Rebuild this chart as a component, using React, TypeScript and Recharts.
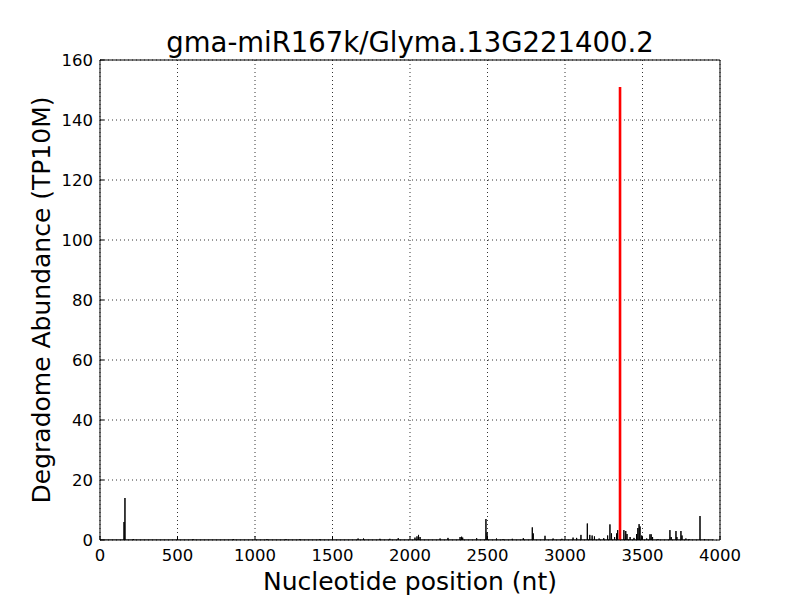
import { LineChart, Line, XAxis, YAxis, CartesianGrid, Label } from 'recharts';

// black degradome reads: position (nt) and abundance (TP10M)
const peakPositions = [
  155, 161, 215, 600, 860, 1077, 1200, 1290, 1419, 1665, 1700, 1806, 1870, 1924,
  2032, 2045, 2055, 2065, 2194, 2245, 2323, 2333, 2340, 2430, 2490, 2497, 2558,
  2600, 2660, 2731, 2789, 2795, 2871, 2923, 2980, 3052, 3075, 3103, 3144, 3160,
  3175, 3190, 3220, 3250, 3275, 3290, 3300, 3320, 3333, 3340, 3380, 3392, 3400,
  3420, 3445, 3462, 3470, 3478, 3484, 3495, 3527, 3548, 3556, 3565, 3600, 3677,
  3685, 3716, 3722, 3748, 3755, 3780, 3800, 3871, 3900,
];
const peakValues = [
  6, 14, 0.3, 0.3, 0.3, 0.3, 0.3, 0.3, 0.3, 0.5, 0.5, 0.4, 0.4, 0.6,
  0.8, 1.2, 1.7, 1, 0.5, 0.7, 1, 1.1, 0.8, 0.6, 7, 2.5, 0.5,
  0.3, 0.4, 0.6, 4.2, 2.2, 1.4, 0.5, 0.4, 0.8, 0.7, 1.7, 5.5, 1.7,
  1.5, 1.2, 0.5, 0.6, 1.5, 5.2, 2.2, 1, 2.2, 3.3, 3.3, 3, 2,
  1, 0.7, 2, 4, 5.3, 4.5, 1.5, 0.5, 1.9, 1.9, 1, 0.3, 3.3,
  1, 3, 1, 3, 1.5, 0.5, 0.3, 8, 0.3,
];
const seqEnd = 3960;

// the miRNA cleavage site (red)
const sitePosition = 3355;
const siteValue = 151;

const xTicks = [0, 500, 1000, 1500, 2000, 2500, 3000, 3500, 4000];
const yTicks = [0, 20, 40, 60, 80, 100, 120, 140, 160];

const reads: { pos: number; v: number }[] = [{ pos: 0, v: 0 }];
peakPositions.forEach((p, i) => {
  reads.push({ pos: p - 1, v: 0 }, { pos: p, v: peakValues[i] }, { pos: p + 1, v: 0 });
});
reads.push({ pos: seqEnd, v: 0 });

const site = [
  { pos: sitePosition, v: 0 },
  { pos: sitePosition, v: siteValue },
];

const font = 'DejaVu Sans, sans-serif';
const tickStyle = { fill: '#000', fontSize: 16.5, fontFamily: font };
const blank = () => '';

export default function App() {
  return (
    <div style={{ position: 'absolute', left: 0, top: 0 }}>
      <LineChart
        width={800}
        height={600}
        margin={{ top: 59, right: 79, bottom: 59, left: 99 }}
        style={{ fontFamily: font, background: '#fff' }}
      >
        <CartesianGrid stroke="#000" strokeDasharray="1 3" strokeWidth={0.8} />
        <XAxis
          dataKey="pos"
          type="number"
          domain={[0, 4000]}
          ticks={xTicks}
          height={1}
          tickSize={-4}
          tickMargin={13}
          tick={tickStyle}
          axisLine={{ stroke: '#000' }}
          tickLine={{ stroke: '#000' }}
          allowDataOverflow
        >
          <Label value="Nucleotide position (nt)" position="center" dy={41} fill="#000" fontSize={25} fontFamily={font} />
        </XAxis>
        <XAxis
          xAxisId="top"
          orientation="top"
          dataKey="pos"
          type="number"
          domain={[0, 4000]}
          ticks={xTicks}
          height={1}
          tickSize={-4}
          tickFormatter={blank}
          axisLine={{ stroke: '#000' }}
          tickLine={{ stroke: '#000' }}
        >
          <Label value="gma-miR167k/Glyma.13G221400.2" position="center" dy={-17} fill="#000" fontSize={27.5} fontFamily={font} />
        </XAxis>
        <YAxis
          type="number"
          domain={[0, 160]}
          ticks={yTicks}
          width={1}
          tickSize={-4}
          tickMargin={11}
          tick={tickStyle}
          axisLine={{ stroke: '#000' }}
          tickLine={{ stroke: '#000' }}
          allowDataOverflow
        >
          <Label value="Degradome Abundance (TP10M)" position="center" angle={-90} dx={-58} fill="#000" fontSize={25} fontFamily={font} />
        </YAxis>
        <YAxis
          yAxisId="right"
          orientation="right"
          type="number"
          domain={[0, 160]}
          ticks={yTicks}
          width={1}
          tickSize={-4}
          tickFormatter={blank}
          axisLine={{ stroke: '#000' }}
          tickLine={{ stroke: '#000' }}
        />
        <Line
          data={reads}
          dataKey="v"
          type="linear"
          stroke="#000"
          strokeWidth={1}
          dot={false}
          activeDot={false}
          isAnimationActive={false}
        />
        <Line
          data={site}
          dataKey="v"
          type="linear"
          stroke="#ff0000"
          strokeWidth={2.6}
          dot={false}
          activeDot={false}
          isAnimationActive={false}
        />
      </LineChart>
    </div>
  );
}
